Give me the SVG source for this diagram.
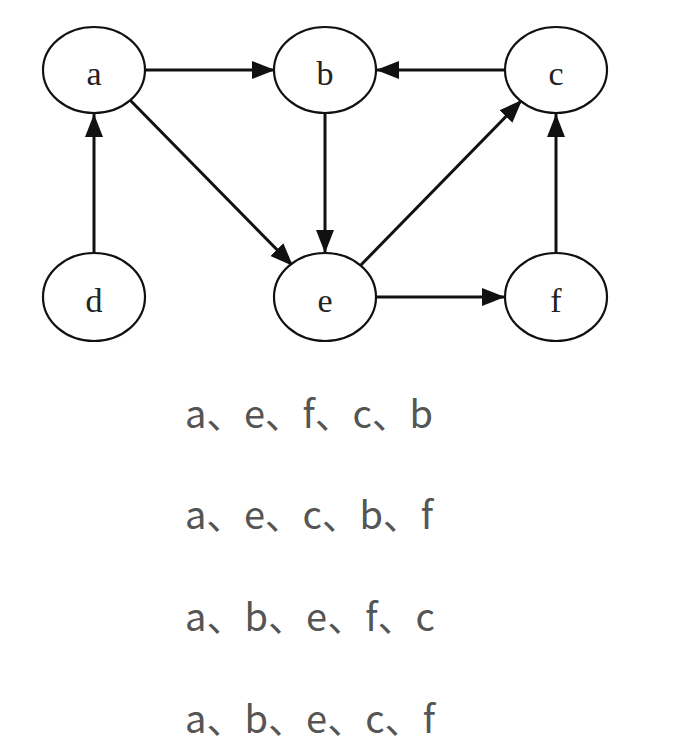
<svg xmlns="http://www.w3.org/2000/svg" width="682" height="754" viewBox="0 0 682 754">
<style>
.node ellipse{fill:#fff;stroke:#111;stroke-width:2.2}
.node text{font-family:"Liberation Serif","Times New Roman",serif;font-size:34px;fill:#222;text-anchor:middle}
.edges line{stroke:#111;stroke-width:3;marker-end:url(#arr)}
.opt{font-family:"Noto Sans CJK SC","Noto Sans",sans-serif;font-size:38px;fill:#555}
</style>
<defs>
<marker id="arr" markerUnits="userSpaceOnUse" markerWidth="24" markerHeight="20" refX="23" refY="9" orient="auto">
<path d="M0,0 L23,9 L0,18 Z" fill="#111"/>
</marker>
</defs>
<rect width="682" height="754" fill="#fff"/>
<g class="edges">
<line x1="146" y1="70" x2="275" y2="70"/>
<line x1="505" y1="70" x2="376" y2="70"/>
<line x1="325" y1="114" x2="325" y2="253"/>
<line x1="94" y1="253" x2="94" y2="114"/>
<line x1="130" y1="100" x2="293" y2="266"/>
<line x1="358" y1="268" x2="522" y2="100"/>
<line x1="376" y1="297" x2="505" y2="297"/>
<line x1="556" y1="253" x2="556" y2="114"/>
</g>
<g id="node-a" class="node"><ellipse cx="94" cy="70" rx="51" ry="43"/><text x="94" y="85">a</text></g>
<g id="node-b" class="node"><ellipse cx="325" cy="70" rx="51" ry="43"/><text x="325" y="85">b</text></g>
<g id="node-c" class="node"><ellipse cx="556" cy="70" rx="51" ry="43"/><text x="556" y="85">c</text></g>
<g id="node-d" class="node"><ellipse cx="94" cy="297" rx="51" ry="44"/><text x="94" y="312">d</text></g>
<g id="node-e" class="node"><ellipse cx="325" cy="297" rx="51" ry="44"/><text x="325" y="312">e</text></g>
<g id="node-f" class="node"><ellipse cx="556" cy="297" rx="51" ry="44"/><text x="556" y="312">f</text></g>
<g id="options">
<text class="opt" x="185" y="428" textLength="248" lengthAdjust="spacing">a、e、f、c、b</text>
<text class="opt" x="185" y="529" textLength="248" lengthAdjust="spacing">a、e、c、b、f</text>
<text class="opt" x="185" y="631" textLength="250" lengthAdjust="spacing">a、b、e、f、c</text>
<text class="opt" x="185" y="733" textLength="250" lengthAdjust="spacing">a、b、e、c、f</text>
</g>
</svg>
